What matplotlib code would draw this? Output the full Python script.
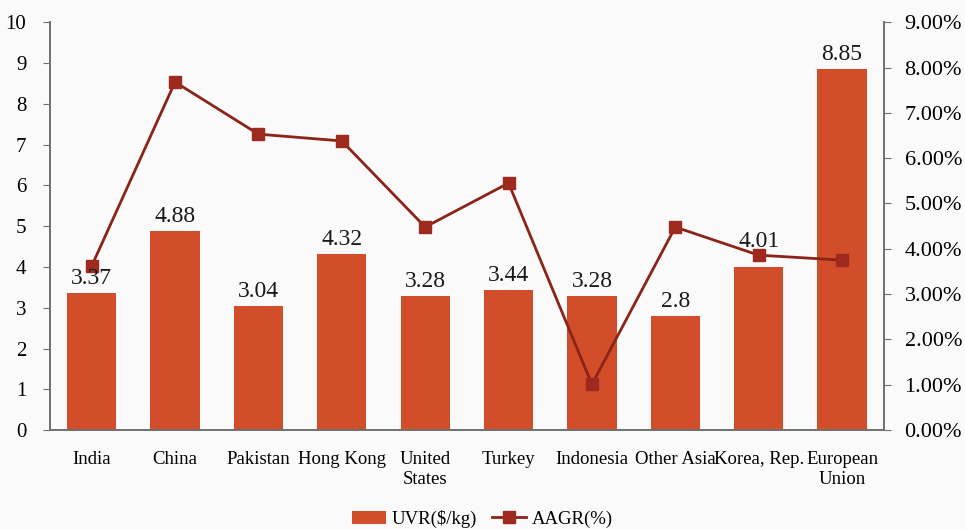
import matplotlib.pyplot as plt
import numpy as np

countries = ["India", "China", "Pakistan", "Hong Kong", "United\nStates", "Turkey",
             "Indonesia", "Other Asia", "Korea, Rep.", "European\nUnion"]
uvr = [3.37, 4.88, 3.04, 4.32, 3.28, 3.44, 3.28, 2.8, 4.01, 8.85]
aagr = [3.62, 7.68, 6.53, 6.38, 4.48, 5.45, 1.01, 4.48, 3.86, 3.75]

bar_color = "#D24E2B"
line_color = "#8B2318"
marker_color = "#9E2A1F"
axis_color = "#707070"

plt.rcParams['font.family'] = ['Liberation Serif', 'DejaVu Serif']

fig = plt.figure(figsize=(9.65, 5.29), dpi=100)
fig.patch.set_facecolor("#FAFAFA")
ax = fig.add_axes([0.0518, 0.187, 0.864, 0.771])
ax.set_facecolor("none")

x = np.arange(len(countries))
ax.bar(x, uvr, width=0.59, color=bar_color, label="UVR($/kg)", zorder=2)

ax.set_xlim(-0.5, len(countries) - 0.5)
ax.set_ylim(0, 10)
ax.set_yticks(range(0, 11))
ax.set_xticks(x)
ax.set_xticklabels(countries, fontsize=13.5)
ax.tick_params(axis="x", length=0, pad=15)
ax.tick_params(axis="y", labelsize=15, color=axis_color, length=5, pad=12)

ax2 = ax.twinx()
ax2.plot(x, aagr, color=line_color, lw=2, marker="s", markersize=8,
         markerfacecolor=marker_color, markeredgecolor=marker_color,
         label="AAGR(%)", zorder=3)
ax2.set_ylim(0, 9)
ax2.set_yticks(range(0, 10))
ax2.set_yticklabels([f"{v:.2f}%" for v in range(0, 10)])
ax2.tick_params(axis="y", labelsize=16, color=axis_color, length=5, pad=10)

# data labels drawn on top of the line; Korea label nudged up like the original
for xi, v in zip(x, uvr):
    extra = 0.25 if countries[xi] == "Korea, Rep." else 0.0
    ax2.text(xi, v + 0.1 + extra, f"{v:g}", transform=ax.transData, ha="center",
             va="bottom", fontsize=17, color="#1a1a1a", zorder=5)

for a in (ax, ax2):
    a.spines["top"].set_visible(False)
    for s in ("left", "right", "bottom"):
        a.spines[s].set_color(axis_color)
        a.spines[s].set_linewidth(1.2)

h1, l1 = ax.get_legend_handles_labels()
h2, l2 = ax2.get_legend_handles_labels()
fig.legend(h1 + h2, l1 + l2, loc="lower center", bbox_to_anchor=(0.5, -0.03),
           ncol=2, frameon=False, fontsize=13.5, handlelength=1.8, columnspacing=0.8,
           handletextpad=0.3)

fig.savefig("out.png", dpi=100, facecolor=fig.get_facecolor())
